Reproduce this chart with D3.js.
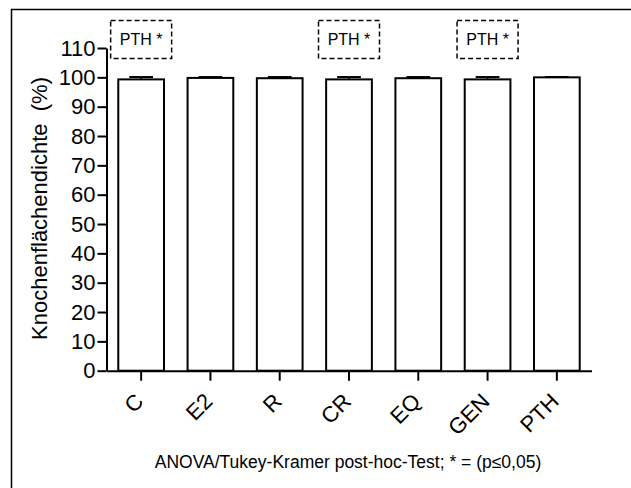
<!DOCTYPE html>
<html>
<head>
<meta charset="utf-8">
<script src="https://cdn.jsdelivr.net/npm/d3@7"></script>
<style>
  body { margin: 0; background: #fff; }
  svg text { font-family: "Liberation Sans", Arial, sans-serif; fill: #000; }
</style>
</head>
<body>
<div id="chart"></div>
<script>
// groups, mean bone area density (%) and error (SEM)
var groups = ["C", "E2", "R", "CR", "EQ", "GEN", "PTH"];
var means  = [99.3, 99.8, 99.7, 99.3, 99.7, 99.3, 100.0];
var errors = [0.8, 0.3, 0.4, 0.8, 0.4, 0.8, 0.1];
var yTicks = [0, 10, 20, 30, 40, 50, 60, 70, 80, 90, 100, 110];
var markedGroups = ["C", "CR", "GEN"];   // "PTH *" boxes
var markText = "PTH *";
var yTitle = "Knochenflächendichte\u00a0\u00a0(%)";
var footnote = "ANOVA/Tukey-Kramer post-hoc-Test; * = (p\u22640,05)";

var W = 631, H = 488;

var svg = d3.select("#chart").append("svg")
    .attr("width", W)
    .attr("height", H);

// outer frame (cut off on right and bottom like the original)
svg.append("rect")
    .attr("x", 11.5).attr("y", 9.5)
    .attr("width", 700).attr("height", 600)
    .attr("fill", "none")
    .attr("stroke", "#000")
    .attr("stroke-width", 1.5);

var x = d3.scaleBand()
    .domain(groups)
    .range([106.5, 591.5])
    .paddingInner(0.34)
    .paddingOuter(0.17);

var y = d3.scaleLinear()
    .domain([0, 110])
    .range([370.7, 48]);

// bars
svg.selectAll(".bar")
    .data(groups)
  .enter().append("rect")
    .attr("class", "bar")
    .attr("x", function(d) { return x(d); })
    .attr("y", function(d, i) { return y(means[i]); })
    .attr("width", x.bandwidth())
    .attr("height", function(d, i) { return y(0) - y(means[i]); })
    .attr("fill", "#fff")
    .attr("stroke", "#000")
    .attr("stroke-width", 2);

// error bars (upper only)
var capW = x.bandwidth() * 0.52;
var err = svg.selectAll(".err")
    .data(groups)
  .enter().append("g")
    .attr("class", "err");

err.append("line")
    .attr("x1", function(d) { return x(d) + x.bandwidth() / 2; })
    .attr("x2", function(d) { return x(d) + x.bandwidth() / 2; })
    .attr("y1", function(d, i) { return y(means[i]); })
    .attr("y2", function(d, i) { return y(means[i] + errors[i]); })
    .attr("stroke", "#000")
    .attr("stroke-width", 1.5);

err.append("line")
    .attr("x1", function(d) { return x(d) + x.bandwidth() / 2 - capW / 2; })
    .attr("x2", function(d) { return x(d) + x.bandwidth() / 2 + capW / 2; })
    .attr("y1", function(d, i) { return y(means[i] + errors[i]); })
    .attr("y2", function(d, i) { return y(means[i] + errors[i]); })
    .attr("stroke", "#000")
    .attr("stroke-width", 2);

// y axis
var yAxis = svg.append("g")
    .attr("transform", "translate(106.5,0)")
    .call(d3.axisLeft(y).tickValues(yTicks).tickSize(9).tickSizeOuter(0).tickPadding(2));

yAxis.selectAll("path, line").attr("stroke", "#000").attr("stroke-width", 2);
yAxis.selectAll("text")
    .style("font-size", "22px")
    .style("font-family", "'Liberation Sans', Arial, sans-serif");

// x axis
var xAxis = svg.append("g")
    .attr("transform", "translate(0," + y(0) + ")")
    .call(d3.axisBottom(x).tickSize(10).tickSizeOuter(0));

xAxis.selectAll("path, line").attr("stroke", "#000").attr("stroke-width", 2);
xAxis.selectAll("text")
    .style("font-size", "22px")
    .style("font-family", "'Liberation Sans', Arial, sans-serif")
    .attr("text-anchor", "end")
    .attr("dy", null)
    .attr("y", null)
    .attr("transform", "translate(3.5,32) rotate(-45)");

// axis title
svg.append("text")
    .attr("transform", "translate(46.5,208.5) rotate(-90)")
    .attr("text-anchor", "middle")
    .style("font-size", "22px")
    .text(yTitle);

// dashed significance boxes
var box = svg.selectAll(".mark")
    .data(markedGroups)
  .enter().append("g")
    .attr("class", "mark")
    .attr("transform", function(d) {
        return "translate(" + (x(d) + x.bandwidth() / 2) + ",0)";
    });

box.append("rect")
    .attr("x", -30.5).attr("y", 20.5)
    .attr("width", 61).attr("height", 38)
    .attr("fill", "none")
    .attr("stroke", "#000")
    .attr("stroke-width", 1.5)
    .attr("stroke-dasharray", "5,3");

box.append("text")
    .attr("x", 0).attr("y", 45)
    .attr("text-anchor", "middle")
    .style("font-size", "16px")
    .text(markText);

// footnote
svg.append("text")
    .attr("x", 348)
    .attr("y", 468)
    .attr("text-anchor", "middle")
    .style("font-size", "17.5px")
    .text(footnote);
</script>
</body>
</html>
